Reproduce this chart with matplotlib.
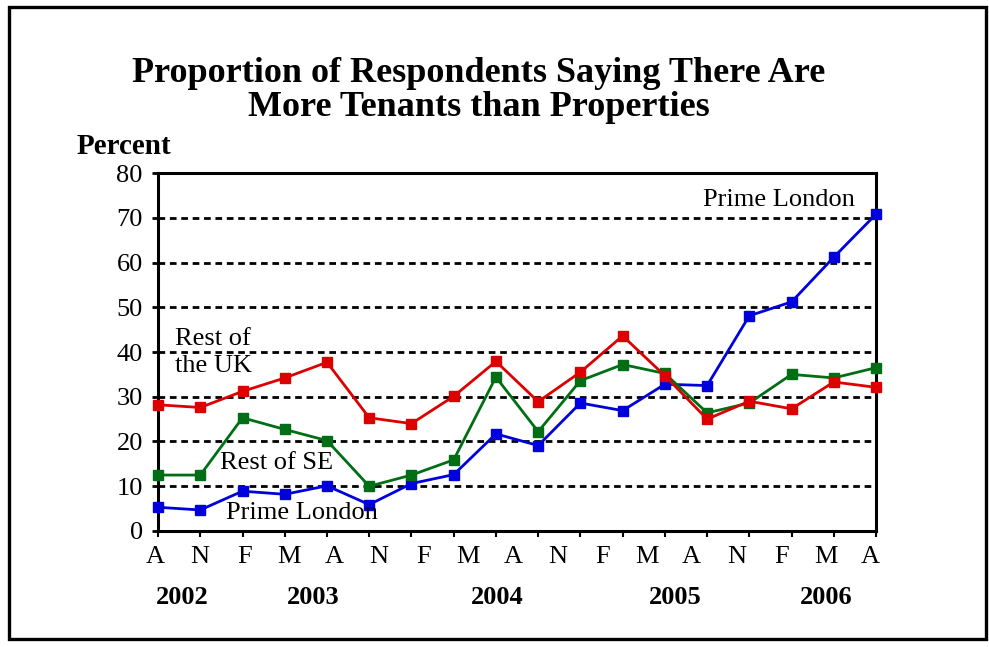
import numpy as np
import matplotlib
matplotlib.use("Agg")
import matplotlib.pyplot as plt
import matplotlib.transforms as mtransforms
from matplotlib.patches import Rectangle

plt.rcParams['font.family'] = ['Liberation Serif', 'DejaVu Serif']

# quarterly survey, Aug 2002 .. Apr 2006
rest_uk = [28.2, 27.6, 31.2, 34.2, 37.7, 25.3, 24.0, 30.1, 37.9, 28.9,
           35.5, 43.6, 34.7, 25.0, 29.0, 27.3, 33.3, 32.1]
rest_se = [12.5, 12.5, 25.3, 22.7, 20.2, 10.0, 12.5, 15.9, 34.4, 22.2,
           33.6, 37.2, 35.2, 26.4, 28.6, 35.0, 34.2, 36.5]
prime_london = [5.3, 4.7, 8.9, 8.2, 10.1, 5.9, 10.6, 12.6, 21.7, 19.1,
                28.6, 26.9, 32.8, 32.5, 48.1, 51.2, 61.2, 70.8]

month_labels = ["A", "N", "F", "M", "A", "N", "F", "M", "A", "N",
                "F", "M", "A", "N", "F", "M", "A"]
years = ["2002", "2003", "2004", "2005", "2006"]
year_pos = [0.57, 3.67, 8.03, 12.24, 15.81]

title_lines = ["Proportion of Respondents Saying There Are",
               "More Tenants than Properties"]

RED = "#dc0000"
GREEN = "#006e14"
BLUE = "#0000dc"

fig = plt.figure(figsize=(9.89, 6.47), dpi=100)
ax = fig.add_axes([0.1598, 0.1793, 0.726, 0.5533])

x = np.arange(len(prime_london))
for vals, col in [(prime_london, BLUE), (rest_se, GREEN), (rest_uk, RED)]:
    ax.plot(x, vals, color=col, lw=2.0, marker="s", ms=7,
            mec=col, mfc=col, zorder=3, clip_on=False)

ax.set_xlim(0, len(x) - 1)
ax.set_ylim(0, 80)

# dashed horizontal gridlines
for yv in range(10, 80, 10):
    ax.axhline(yv, color="black", lw=2.0, dashes=(2.4, 1.7), zorder=1)

for s in ax.spines.values():
    s.set_linewidth(2.2)
    s.set_color("black")

ax.set_yticks(range(0, 81, 10))
ax.tick_params(axis="y", direction="out", length=4, width=2, pad=7,
               labelsize=19)
ax.set_xticks(x)
ax.set_xticklabels([])
ax.tick_params(axis="x", direction="out", length=4, width=1.5)

trans = mtransforms.blended_transform_factory(ax.transData, ax.transAxes)
for xp, lab in zip(np.linspace(-0.07, 16.87, len(month_labels)), month_labels):
    ax.text(xp, -0.073, lab, transform=trans, ha="center", va="center",
            fontsize=19)
for xp, yr in zip(year_pos, years):
    ax.text(xp, -0.187, yr, transform=trans, ha="center", va="center",
            fontsize=19, fontweight="heavy")

# series labels
ax.text(16.5, 74, "Prime London", ha="right", va="center", fontsize=19)
ax.text(0.4, 39.9, "Rest of\nthe UK", ha="left", va="center", fontsize=19,
        linespacing=1.25)
ax.text(1.47, 15.2, "Rest of SE", ha="left", va="center", fontsize=19)
ax.text(1.61, 4.0, "Prime London", ha="left", va="center", fontsize=19)

fig.text(0.0779, 0.7743, "Percent", ha="left", va="center",
         fontsize=21, fontweight="bold")
for yy, line in zip([74, 108], title_lines):
    fig.text(0.4838, 1 - yy / 647, line, ha="center", va="center",
             fontsize=26, fontweight="bold")

# outer frame
fig.patches.append(Rectangle((9 / 989, 1 - 639 / 647), 977 / 989, 632 / 647,
                             transform=fig.transFigure, fill=False,
                             edgecolor="black", lw=2.4))

fig.savefig("out.png", dpi=100)
